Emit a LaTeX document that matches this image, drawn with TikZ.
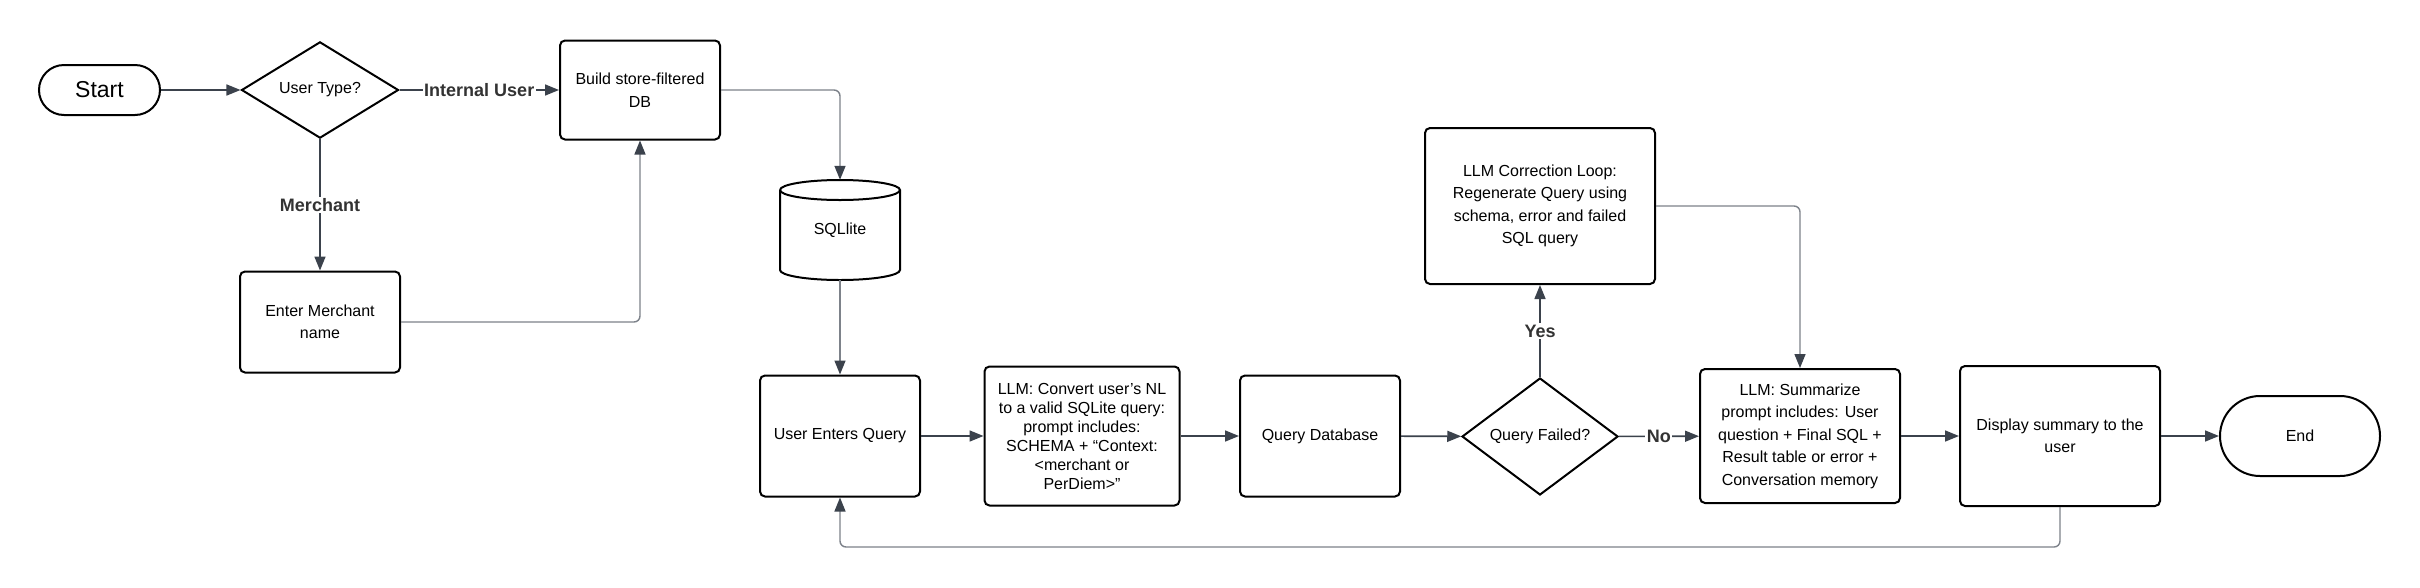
\documentclass[tikz,border=0pt]{standalone}
\usepackage{fontspec}
\setmainfont{Liberation Sans}
\usetikzlibrary{arrows.meta,shapes.geometric,shapes.misc}

\definecolor{edgeink}{HTML}{3B424C}
\definecolor{linkgray}{HTML}{7D828A}
\definecolor{labelink}{HTML}{333333}

\tikzset{
  stepbox/.style={draw=black, line width=2pt, rounded corners=5pt, fill=white, align=center,
    font=\fontsize{16}{22.5}\selectfont, inner sep=0pt},
  termbox/.style={rounded rectangle, draw=black, line width=2pt, align=center, inner sep=0pt},
  choice/.style={diamond, draw=black, line width=2pt, inner sep=0pt, align=center,
    font=\fontsize{16}{20}\selectfont},
  flow/.style={draw=edgeink, line width=1.6pt, -{Triangle[length=14pt,width=11pt]}},
  link/.style={draw=linkgray, line width=1.4pt, rounded corners=6pt,
    -{Triangle[length=14pt,width=11pt,color=edgeink]}},
  tag/.style={fill=white, inner sep=1.5pt, text=labelink, font=\bfseries\fontsize{18}{20}\selectfont},
}

\begin{document}
\begin{tikzpicture}[x=1pt,y=-1pt]
    \fill[white] (0,0) rectangle (2420,587);
    \useasboundingbox (0,0) rectangle (2420,587);

    % top row: start and user type
    \node[termbox, minimum width=121pt, minimum height=50pt, font=\fontsize{23}{26}\selectfont] (start) at (99.5,90) {Start};
    \node[choice, minimum width=157pt, minimum height=96pt] (usertype) at (320,90) {User Type?};
    \node[stepbox, minimum width=160pt, minimum height=99pt] (build) at (640,90) {Build store-filtered\\DB};
    \node[stepbox, minimum width=160pt, minimum height=101pt] (merchant) at (320,322) {Enter Merchant\\name};

    % database
    \draw[line width=2pt] (780,190) -- (780,270) arc(180:0:60 and 10) -- (900,190) arc(0:-180:60 and 10);
    \draw[line width=2pt] (780,190) arc(180:0:60 and 10);
    \node[minimum width=120pt, minimum height=100pt, inner sep=0pt, font=\fontsize{16}{20}\selectfont] (db) at (840,230) {SQLlite};

    % query row
    \node[stepbox, minimum width=160pt, minimum height=121pt] (enter) at (840,436) {User Enters Query};
    \node[stepbox, minimum width=195pt, minimum height=139pt, font=\fontsize{16}{19}\selectfont] (convert) at (1082,436)
        {LLM: Convert user’s NL\\to a valid SQLite query:\\prompt includes:\\SCHEMA + “Context:\\<merchant or\\PerDiem>”};
    \node[stepbox, minimum width=160pt, minimum height=121pt] (querydb) at (1320,436) {Query Database};
    \node[choice, minimum width=156pt, minimum height=117pt] (failed) at (1540,436.5) {Query Failed?};
    \node[stepbox, minimum width=230pt, minimum height=156pt] (correct) at (1540,206)
        {LLM Correction Loop:\\Regenerate Query using\\schema, error and failed\\SQL query};
    \node[stepbox, minimum width=200pt, minimum height=134pt] (summ) at (1800,436)
        {LLM: Summarize\\prompt includes: User\\question + Final SQL +\\Result table or error +\\Conversation memory};
    \node[stepbox, minimum width=200pt, minimum height=140pt] (display) at (2060,436) {Display summary to the\\user};
    \node[termbox, minimum width=160pt, minimum height=80pt, font=\fontsize{16}{20}\selectfont] (end) at (2300,436) {End};

    % connectors
    \draw[flow] (start) -- (usertype);
    \draw[flow] (usertype) -- node[tag] {Internal User} (build);
    \draw[flow] (usertype) -- node[tag] {Merchant} (merchant);
    \draw[link] (merchant.east) -| (build.south);
    \draw[link] (build.east) -| (db.north);
    \draw[link] (db.south) -- (enter.north);
    \draw[flow] (enter) -- (convert);
    \draw[flow] (convert) -- (querydb);
    \draw[flow] (querydb) -- (failed);
    \draw[flow] (failed) -- node[tag] {Yes} (correct);
    \draw[flow] (failed) -- node[tag] {No} (summ);
    \draw[link] (correct.east) -| (summ.north);
    \draw[flow] (summ) -- (display);
    \draw[flow] (display) -- (end);
    \draw[link] (display.south) -- ++(0,40) -| (enter.south);
\end{tikzpicture}
\end{document}
